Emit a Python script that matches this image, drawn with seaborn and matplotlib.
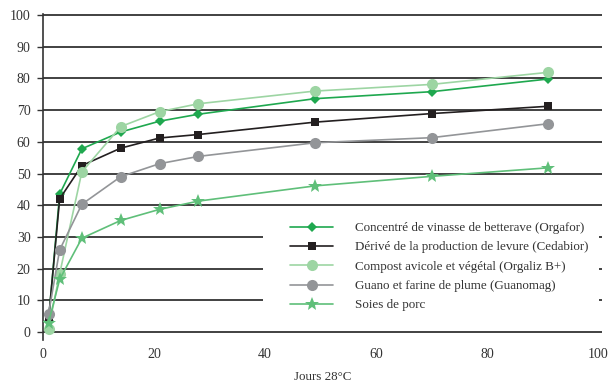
import matplotlib
matplotlib.use("Agg")
import matplotlib.pyplot as plt
from matplotlib.patches import Rectangle
import pandas as pd
import seaborn as sns

days = [1, 3, 7, 14, 21, 28, 49, 70, 91]

labels = [
    "Concentré de vinasse de betterave (Orgafor)",
    "Dérivé de la production de levure (Cedabior)",
    "Compost avicole et végétal (Orgaliz B+)",
    "Guano et farine de plume (Guanomag)",
    "Soies de porc",
]

orgafor = [3.5, 43.5, 57.8, 63.1, 66.5, 68.7, 73.6, 75.8, 79.8]
cedabior = [4.0, 42.0, 52.5, 58.0, 61.2, 62.3, 66.2, 68.9, 71.2]
orgaliz = [1.0, 18.4, 50.5, 64.8, 69.5, 72.0, 76.0, 78.1, 81.9]
guanomag = [5.8, 25.9, 40.3, 49.0, 53.1, 55.4, 59.7, 61.3, 65.7]
soies = [3.0, 16.6, 29.6, 35.2, 38.7, 41.3, 46.1, 49.1, 51.8]

y_ticks = list(range(0, 101, 10))
x_ticks = list(range(0, 101, 20))
x_label = "Jours 28°C"

series = [orgafor, cedabior, orgaliz, guanomag, soies]
colors = ["#1fa84f", "#231f20", "#9dd5a3", "#939598", "#5fbf79"]
markers = ["D", "s", "o", "o", "*"]
msizes = [5, 6, 8, 8, 10]

df = pd.concat(
    [pd.DataFrame({"jour": days, "valeur": v, "produit": lab}) for v, lab in zip(series, labels)],
    ignore_index=True,
)

sns.set_style("white")
plt.rcParams["font.family"] = ["Liberation Serif", "DejaVu Serif"]

fig = plt.figure(figsize=(6.08, 3.83), dpi=100)
ax = fig.add_axes([43 / 608, 43 / 383, 559 / 608, 326 / 383])

for lab, col, mk, ms in zip(labels, colors, markers, msizes):
    sub = df[df["produit"] == lab]
    sns.lineplot(
        data=sub, x="jour", y="valeur", ax=ax, color=col, marker=mk,
        markersize=ms, markeredgewidth=0, linewidth=1.2, label=lab, zorder=3,
    )

ax.set_xlim(0, 100.7)
ax.set_ylim(-2.5, 100.3)
ax.set_xticks(x_ticks)
ax.set_yticks(y_ticks)
ax.set_axisbelow(True)
ax.yaxis.grid(True, color="#333333", linewidth=1.3)
ax.xaxis.grid(False)

for s in ["top", "right", "bottom"]:
    ax.spines[s].set_visible(False)
ax.spines["left"].set_color("#333333")
ax.spines["left"].set_linewidth(1.2)

ax.tick_params(axis="y", left=True, length=4, width=1, color="#333333",
               labelsize=10, labelcolor="#333333", pad=5)
ax.tick_params(axis="x", bottom=False, length=0, labelsize=10,
               labelcolor="#333333", pad=6)
ax.set_xlabel(x_label, fontsize=9.4, color="#333333", labelpad=7)
ax.set_ylabel("")

# white panel behind the legend
ax.add_patch(Rectangle((0.3936, 0.092), 0.601, 0.298, transform=ax.transAxes,
                       facecolor="white", edgecolor="none", zorder=1))

leg = ax.legend(
    loc="upper left", bbox_to_anchor=(0.442, 0.362), frameon=False,
    fontsize=9.4, handlelength=3.3, handletextpad=1.7, labelspacing=0.55,
    borderpad=0, borderaxespad=0,
)
for t in leg.get_texts():
    t.set_color("#333333")

fig.savefig("out.png", dpi=100)
